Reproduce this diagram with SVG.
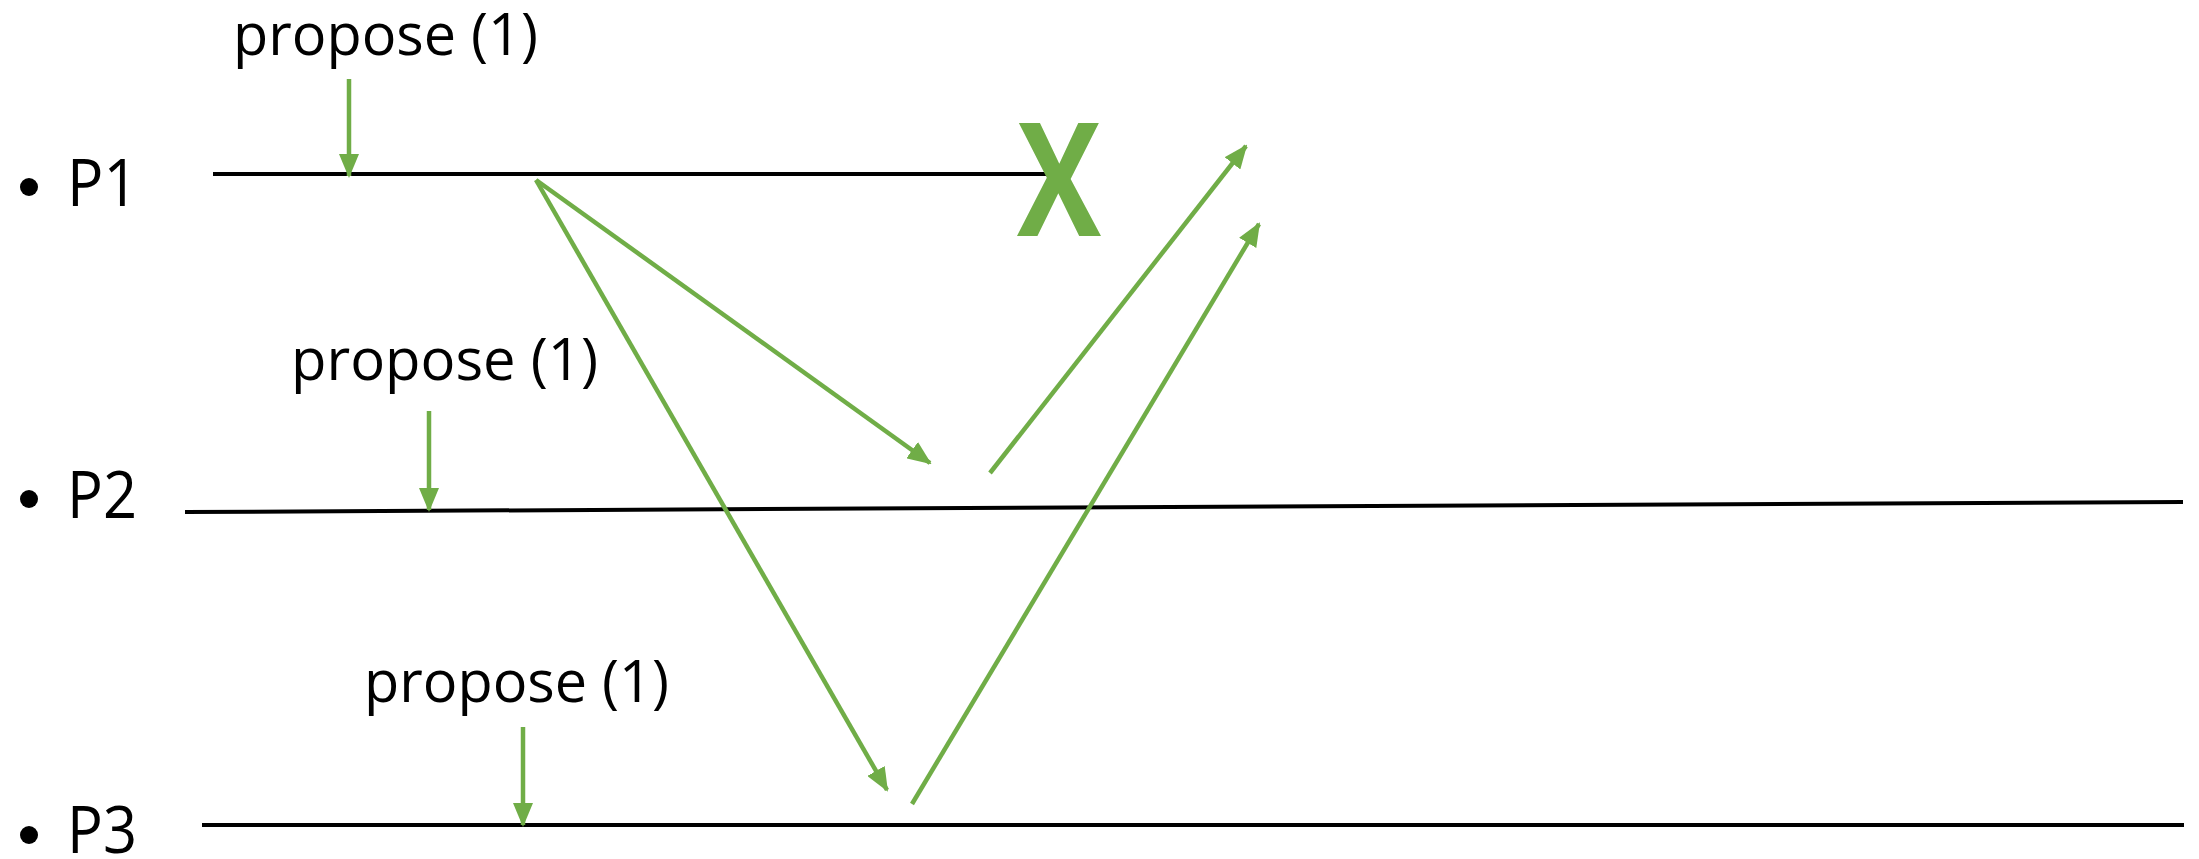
<svg xmlns="http://www.w3.org/2000/svg" width="2199" height="859" viewBox="0 0 2199 859">
<style>
.tl{stroke:#000;stroke-width:4;fill:none}
.g{stroke:#70AD47;stroke-width:4.5;fill:none}
.lbl{font-family:"Open Sans","Liberation Sans",sans-serif;font-size:66px;fill:#000}
.pr{font-family:"Open Sans","Liberation Sans",sans-serif;font-size:58px;fill:#000}
.x{font-family:"Open Sans","Liberation Sans",sans-serif;font-size:158px;font-weight:bold;fill:#70AD47}
</style>
<defs>
<marker id="ah" markerUnits="userSpaceOnUse" markerWidth="24" markerHeight="20" viewBox="0 0 24 20" refX="22" refY="10" orient="auto">
<path d="M0,0 L24,10 L0,20 z" fill="#70AD47"/>
</marker>
</defs>
<rect width="2199" height="859" fill="#fff"/>
<g id="P1">
<circle cx="29" cy="187" r="9" fill="#000"/>
<text class="lbl" x="67" y="206" textLength="71" lengthAdjust="spacingAndGlyphs">P1</text>
<line class="tl" x1="213" y1="174" x2="1047" y2="174"/>
</g>
<g id="P2">
<circle cx="29" cy="499" r="9" fill="#000"/>
<text class="lbl" x="67" y="518" textLength="70" lengthAdjust="spacingAndGlyphs">P2</text>
<line class="tl" x1="185" y1="512" x2="2183" y2="502"/>
</g>
<g id="P3">
<circle cx="29" cy="835" r="9" fill="#000"/>
<text class="lbl" x="67" y="853" textLength="70" lengthAdjust="spacingAndGlyphs">P3</text>
<line class="tl" x1="202" y1="825" x2="2184" y2="825"/>
</g>
<g id="propose1">
<text class="pr" x="233" y="55" textLength="305" lengthAdjust="spacingAndGlyphs">propose (1)</text>
</g>
<g id="propose2">
<text class="pr" x="291" y="380" textLength="307" lengthAdjust="spacingAndGlyphs">propose (1)</text>
</g>
<g id="propose3">
<text class="pr" x="364" y="702" textLength="305" lengthAdjust="spacingAndGlyphs">propose (1)</text>
</g>
<g id="crash">
<text class="x" x="1059" y="236" text-anchor="middle" textLength="84" lengthAdjust="spacingAndGlyphs">X</text>
</g>
<g id="connectors">
<line class="g" x1="349" y1="79" x2="349" y2="176" marker-end="url(#ah)"/>
<line class="g" x1="429" y1="411" x2="429" y2="510" marker-end="url(#ah)"/>
<line class="g" x1="523" y1="727" x2="523" y2="825" marker-end="url(#ah)"/>
<line class="g" x1="536" y1="180" x2="930" y2="463" marker-end="url(#ah)"/>
<line class="g" x1="536" y1="180" x2="887" y2="790" marker-end="url(#ah)"/>
<line class="g" x1="990" y1="473" x2="1246" y2="146" marker-end="url(#ah)"/>
<line class="g" x1="912" y1="804" x2="1259" y2="224" marker-end="url(#ah)"/>
</g>
</svg>
